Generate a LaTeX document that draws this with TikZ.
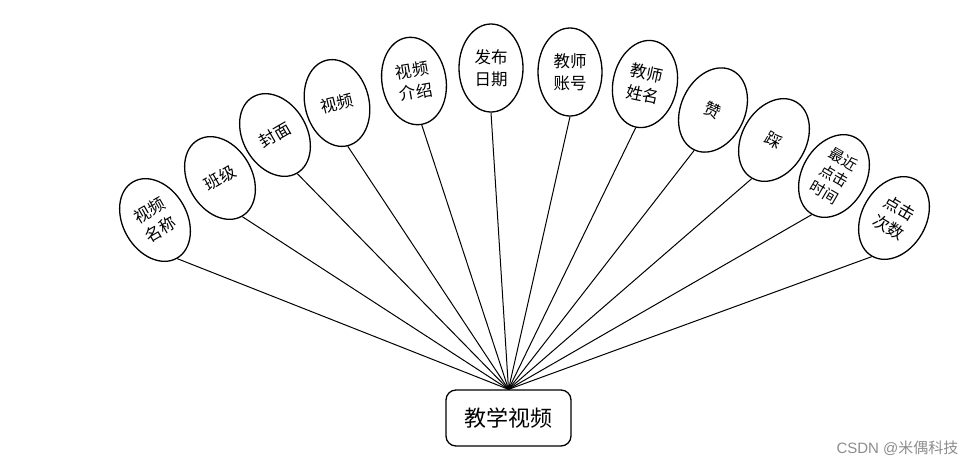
\documentclass[tikz,border=0pt]{standalone}
\usepackage{fontspec}
\setmainfont{Noto Sans CJK SC}
\newfontfamily\wmfont{Liberation Sans}
\usetikzlibrary{shapes.geometric}
\tikzset{
  attr/.style={draw=black, line width=1.3pt, ellipse, minimum width=64pt, minimum height=88pt, inner sep=0pt, align=center, font=\fontsize{16.5}{22}\selectfont},
  attrsmall/.style={attr, font=\fontsize{15}{19}\selectfont},
  entity/.style={draw=black, line width=1.3pt, rounded corners=10pt, minimum width=125pt, minimum height=56pt, font=\fontsize{22}{26}\selectfont},
  link/.style={draw=black, line width=1pt},
  wm/.style={text=black!45, font=\fontsize{15}{17}\selectfont}
}
\begin{document}
\begin{tikzpicture}[x=1pt,y=-1pt]
\useasboundingbox (0,0) rectangle (977,467);
\node[entity] (ent) at (508.5,418) {教学视频};
\node[attr, rotate=30] (e1) at (155,220) {视频\\名称};
\node[attr, rotate=30] (e2) at (220,178) {班级};
\node[attr, rotate=30] (e3) at (275,135) {封面};
\node[attr, rotate=14] (e4) at (337,103) {视频};
\node[attr, rotate=10] (e5) at (414,81) {视频\\介绍};
\node[attr] (e6) at (491,68) {发布\\日期};
\node[attr] (e7) at (570,72) {教师\\账号};
\node[attr, rotate=-12] (e8) at (645,84) {教师\\姓名};
\node[attr, rotate=-25] (e9) at (713,110) {赞};
\node[attr, rotate=-30] (e10) at (774,140) {踩};
\node[attrsmall, rotate=-30] (e11) at (834,176) {最近\\点击\\时间};
\node[attr, rotate=-30] (e12) at (894,218) {点击\\次数};
\foreach \e in {e1,e2,e3,e4,e5,e6,e7,e8,e9,e10,e11,e12}
  \draw[link] (ent.north) -- (\e.south);
\node[wm, anchor=east] (wmk) at (962,448) {{\wmfont CSDN @}米偶科技};
\end{tikzpicture}
\end{document}
